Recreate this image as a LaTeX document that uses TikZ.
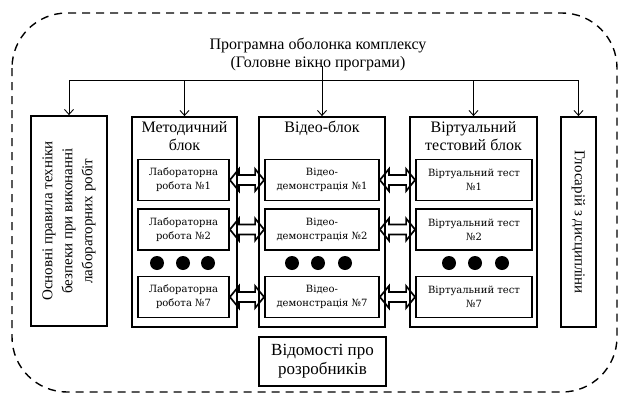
\documentclass[tikz,border=0pt]{standalone}
\usepackage{fontspec}
\setmainfont{Liberation Serif}
\newfontfamily\itemfont{DejaVu Serif}
\usetikzlibrary{arrows.meta,positioning,calc}
\tikzset{
  >={Straight Barb[length=5pt,width=9pt]},
  every node/.style={font=\fontsize{16}{18}\selectfont},
  frame/.style={draw,line width=1.4pt,rounded corners=55pt,dash pattern=on 8pt off 6pt},
  box/.style={draw,line width=1.8pt,minimum height=210pt,inner sep=0pt},
  item/.style={draw,line width=1.8pt,minimum height=41pt,inner sep=0pt,align=center,font=\itemfont\fontsize{10}{14}\selectfont},
  dot/.style={circle,fill,minimum size=14pt,inner sep=0pt},
  arrow/.style={->,line width=0.9pt},
  link/.style={draw,line width=1.7pt,line join=miter,to path={
    let \p1=(\tikztostart.east), \p2=(\tikztotarget.west) in
    (\x1,\y1) -- (\x1+9pt,\y1+11pt) -- (\x1+9pt,\y1+5pt) -- (\x2-9pt,\y1+5pt) -- (\x2-9pt,\y1+11pt)
    -- (\x2,\y1) -- (\x2-9pt,\y1-11pt) -- (\x2-9pt,\y1-5pt) -- (\x1+9pt,\y1-5pt) -- (\x1+9pt,\y1-11pt) -- cycle}},
  caption/.style={align=center,inner sep=0pt,font=\fontsize{16}{18}\selectfont},
  sidetext/.style={align=center,inner sep=0pt,font=\fontsize{15}{20}\selectfont},
}

\begin{document}
\begin{tikzpicture}[x=1pt,y=-1pt]
\useasboundingbox (0,0) rectangle (619,394);
\draw[frame] (12,13) rectangle (617,392);

\node[caption] (title) at (318,54) {Програмна оболонка комплексу\\(Головне вікно програми)};

% columns
\node[box,minimum width=76pt] (safety) at (69,221) {};
\node[sidetext,rotate=90] at (safety) {Основні правила техніки\\безпеки при виконанні\\лабораторних робіт};
\node[box,minimum width=105pt] (method) at (184.5,222) {};
\node[box,minimum width=126pt] (video) at (322,222) {};
\node[box,minimum width=127pt] (virtual) at (473.5,222) {};
\node[box,minimum width=35pt] (gloss) at (578.5,222) {};
\node[sidetext,rotate=-90] at (gloss) {Глосарій з дисципліни};

\node[caption,below=5pt of method.north] (methodtitle) {Методичний\\блок};
\node[caption,below=5pt of video.north] (videotitle) {Відео-блок};
\node[caption,below=5pt of virtual.north] (virtualtitle) {Віртуальний\\тестовий блок};

% bus
\coordinate (busL) at (69,80);
\coordinate (busR) at (578,80);
\draw[line width=0.9pt] (busL) -- (busR);
\draw[arrow] (safety.north |- busL) -- (safety.north);
\draw[arrow] (method.north |- busL) -- (method.north);
\draw[arrow] ([yshift=5pt]title.south -| video.north) -- (video.north);
\draw[arrow] (virtual.north |- busL) -- (virtual.north);
\draw[arrow] (gloss.north |- busL) -- (gloss.north);

% items
\node[item,minimum width=91pt] (lab1) at (183.5,180) {Лабораторна\\робота №1};
\node[item,minimum width=91pt] (lab2) at (183.5,229.5) {Лабораторна\\робота №2};
\node[item,minimum width=91pt] (lab7) at (183.5,297) {Лабораторна\\робота №7};
\node[item,minimum width=114pt] (vid1) at (322,180) {Відео-\\демонстрація №1};
\node[item,minimum width=114pt] (vid2) at (322,229.5) {Відео-\\демонстрація №2};
\node[item,minimum width=114pt] (vid7) at (322,297) {Відео-\\демонстрація №7};
\node[item,minimum width=116pt] (test1) at (474,180) {Віртуальний тест\\№1};
\node[item,minimum width=116pt] (test2) at (474,229.5) {Віртуальний тест\\№2};
\node[item,minimum width=116pt] (test7) at (474,297) {Віртуальний тест\\№7};

\foreach \x [count=\i] in {157,183,208} \node[dot] (labdot\i) at (\x,263) {};
\foreach \x [count=\i] in {292,318,345} \node[dot] (viddot\i) at (\x,263) {};
\foreach \x [count=\i] in {449,475,502} \node[dot] (testdot\i) at (\x,263) {};

\foreach \k in {1,2,7} {
  \draw[link] (lab\k) to (vid\k);
  \draw[link] (vid\k) to (test\k);
}

\node[box,minimum width=127pt,minimum height=49pt,align=center,font=\fontsize{17}{19}\selectfont] (authors) at (322.5,361.5) {Відомості про\\розробників};

\end{tikzpicture}
\end{document}
